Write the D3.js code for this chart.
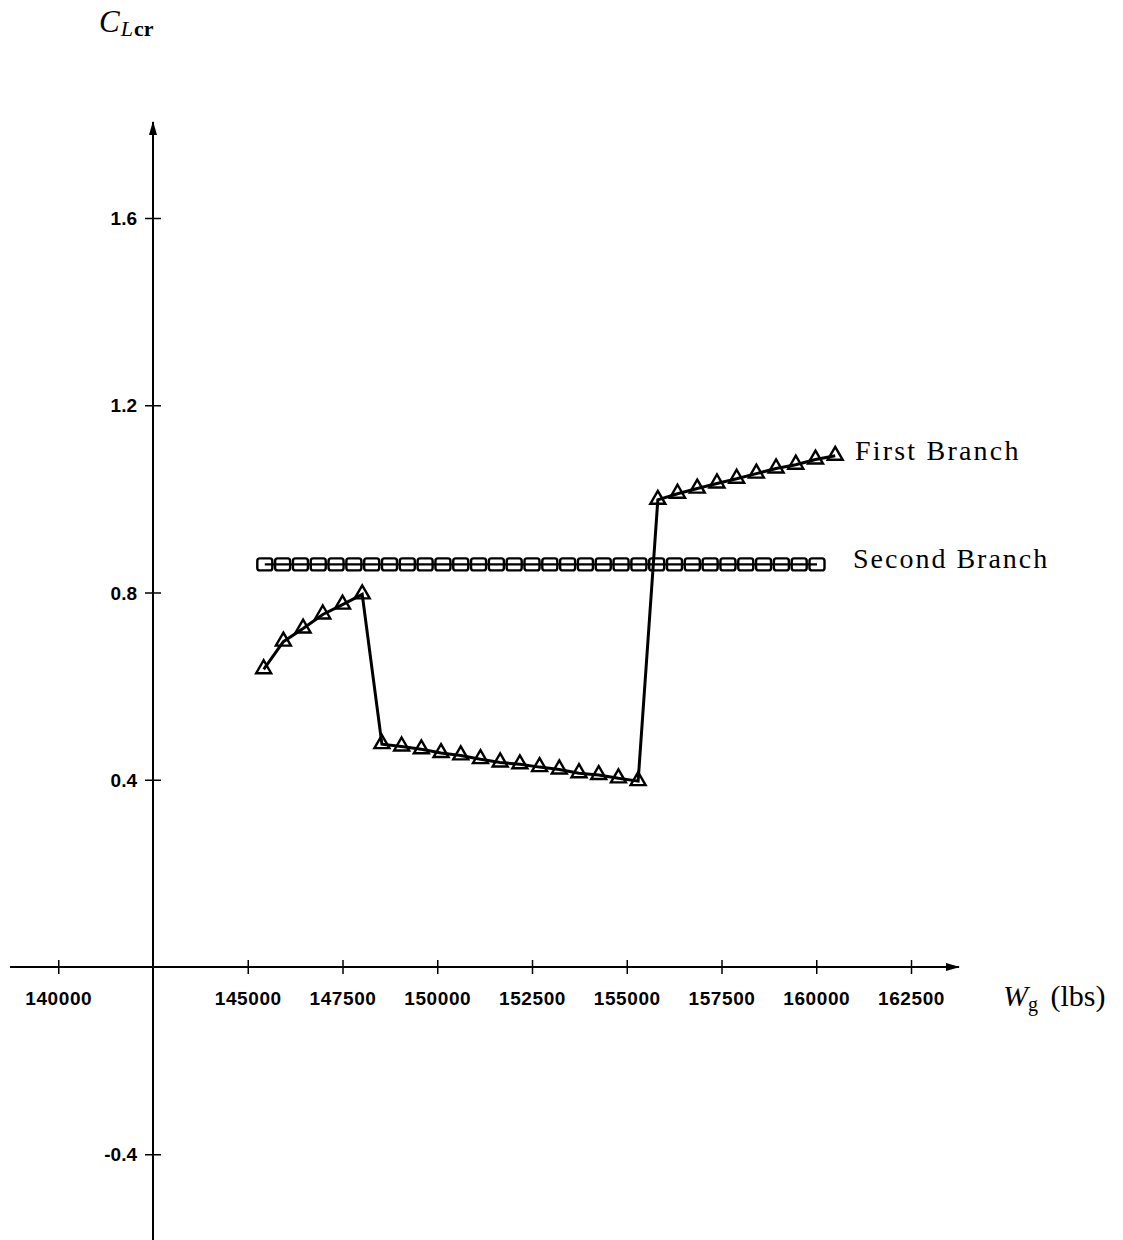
<!DOCTYPE html>
<html>
<head>
<meta charset="utf-8">
<script src="https://cdn.jsdelivr.net/npm/d3@7"></script>
<style>
  body { margin: 0; background: #fff; }
</style>
</head>
<body>
<div class="canvas"></div>
<script>
// DATA ------------------------------------------------------------------------
// First branch (triangles): gross weight (lbs) and CLcr
const firstW = [145420, 145940, 146460, 146980, 147500, 148020,
    148540, 149060, 149580, 150100, 150620, 151140, 151660, 152180, 152700,
    153220, 153740, 154260, 154780, 155300,
    155820, 156340, 156860, 157380, 157900, 158420, 158940, 159460, 159980, 160500];
const firstCL = [0.636, 0.695, 0.723, 0.753, 0.774, 0.796,
    0.476, 0.471, 0.465, 0.457, 0.452, 0.444, 0.437, 0.433, 0.427,
    0.422, 0.414, 0.410, 0.403, 0.397,
    0.998, 1.011, 1.022, 1.033, 1.043, 1.054, 1.065, 1.073, 1.084, 1.092];

// Second branch (squares)
const secondW = [145450, 145920, 146390, 146860, 147330, 147800, 148270, 148740,
    149210, 149680, 150150, 150620, 151090, 151560, 152030, 152500,
    152970, 153440, 153910, 154380, 154850, 155320, 155790, 156260,
    156730, 157200, 157670, 158140, 158610, 159080, 159550, 160020];
const secondCL = [0.86, 0.86, 0.86, 0.86, 0.86, 0.86, 0.86, 0.86,
    0.86, 0.86, 0.86, 0.86, 0.86, 0.86, 0.86, 0.86,
    0.86, 0.86, 0.86, 0.86, 0.86, 0.86, 0.86, 0.86,
    0.86, 0.86, 0.86, 0.86, 0.86, 0.86, 0.86, 0.86];

const xTicks = [140000, 145000, 147500, 150000, 152500, 155000, 157500, 160000, 162500];
const yTicks = [1.6, 1.2, 0.8, 0.4, -0.4];
const seriesNames = ['First Branch', 'Second Branch'];

// SET UP ----------------------------------------------------------------------
const width = 1123, height = 1240;
const svg = d3.select('.canvas')
    .append('svg')
        .attr('width', width)
        .attr('height', height);

// axis crosses at W = 142500, CL = 0
const x = d3.scaleLinear().domain([142500, 162500]).range([153, 911]);
const y = d3.scaleLinear().domain([0, 1.6]).range([967, 218]);

const tickFont = '"Liberation Sans", Arial, sans-serif';
const textFont = '"Liberation Serif", "Times New Roman", serif';

// arrow heads
const defs = svg.append('defs');
defs.append('marker')
    .attr('id', 'arrow')
    .attr('viewBox', '0 0 14 10')
    .attr('refX', 13).attr('refY', 5)
    .attr('markerWidth', 14).attr('markerHeight', 10)
    .attr('markerUnits', 'userSpaceOnUse')
    .attr('orient', 'auto')
  .append('path')
    .attr('d', 'M0,1 L14,5 L0,9 Z')
    .attr('fill', '#000');

// AXES ------------------------------------------------------------------------
const axisY0 = y(0), axisX0 = x(142500);

svg.append('line')
    .attr('x1', 10).attr('y1', axisY0)
    .attr('x2', 959).attr('y2', axisY0)
    .attr('stroke', '#000').attr('stroke-width', 2)
    .attr('marker-end', 'url(#arrow)');

svg.append('line')
    .attr('x1', axisX0).attr('y1', height)
    .attr('x2', axisX0).attr('y2', 122)
    .attr('stroke', '#000').attr('stroke-width', 2)
    .attr('marker-end', 'url(#arrow)');

const xAxisGroup = svg.append('g')
    .attr('transform', `translate(0, ${axisY0})`)
    .call(d3.axisBottom(x).tickValues(xTicks).tickSize(7).tickFormat(d3.format('d')));
xAxisGroup.select('.domain').remove();
xAxisGroup.selectAll('.tick line')
    .attr('y1', -7).attr('stroke', '#000').attr('stroke-width', 1.5);
xAxisGroup.selectAll('.tick text')
    .attr('y', 38).attr('dy', 0)
    .attr('fill', '#000')
    .style('font', `bold 19px ${tickFont}`)
    .style('letter-spacing', '0.6px');

const yAxisGroup = svg.append('g')
    .attr('transform', `translate(${axisX0}, 0)`)
    .call(d3.axisLeft(y).tickValues(yTicks).tickSize(8).tickFormat(d3.format('.1f')));
yAxisGroup.select('.domain').remove();
yAxisGroup.selectAll('.tick line')
    .attr('x2', 8).attr('x1', -8).attr('stroke', '#000').attr('stroke-width', 1.5);
yAxisGroup.selectAll('.tick text')
    .attr('x', -16).attr('dy', '0.35em')
    .attr('fill', '#000')
    .style('font', `bold 19px ${tickFont}`)
    .text(d => d3.format('.1f')(d).replace('−', '-'));

// axis titles
const cTitle = svg.append('text')
    .attr('x', 99).attr('y', 32)
    .style('font-family', textFont)
    .attr('fill', '#000');
cTitle.append('tspan').text('C').style('font-style', 'italic').style('font-size', '31px');
cTitle.append('tspan').text('L').attr('dy', 4).attr('dx', 1).style('font-style', 'italic').style('font-size', '22px');
cTitle.append('tspan').text('cr').attr('dx', 1).style('font-size', '22px').style('font-weight', 'bold');

const wTitle = svg.append('text')
    .attr('x', 1003).attr('y', 1006)
    .style('font-family', textFont)
    .attr('fill', '#000');
wTitle.append('tspan').text('W').style('font-style', 'italic').style('font-size', '30px');
wTitle.append('tspan').text('g').attr('dy', 5).style('font-size', '20px');
wTitle.append('tspan').text(' (lbs)').attr('dy', -5).attr('dx', 5).style('font-size', '30px');

// SERIES ----------------------------------------------------------------------
const first = firstW.map((w, i) => ({ w: w, cl: firstCL[i] }));
const second = secondW.map((w, i) => ({ w: w, cl: secondCL[i] }));

const line = d3.line().x(d => x(d.w)).y(d => y(d.cl));

svg.append('path')
    .datum(second)
    .attr('d', line)
    .attr('fill', 'none')
    .attr('stroke', '#000')
    .attr('stroke-width', 2.2);

svg.selectAll('rect.sq')
    .data(second)
    .enter()
  .append('rect')
    .attr('class', 'sq')
    .attr('x', d => x(d.w) - 7.5)
    .attr('y', d => y(d.cl) - 6)
    .attr('width', 15)
    .attr('height', 12)
    .attr('rx', 2.5)
    .attr('fill', 'none')
    .attr('stroke', '#000')
    .attr('stroke-width', 2.4);

svg.append('path')
    .datum(first)
    .attr('d', line)
    .attr('fill', 'none')
    .attr('stroke', '#000')
    .attr('stroke-width', 3);

svg.selectAll('path.tri')
    .data(first)
    .enter()
  .append('path')
    .attr('class', 'tri')
    .attr('d', d => {
        const cx = x(d.w), cy = y(d.cl);
        return `M${cx},${cy - 9} L${cx + 7.5},${cy + 4} L${cx - 7.5},${cy + 4} Z`;
    })
    .attr('fill', 'none')
    .attr('stroke', '#000')
    .attr('stroke-width', 2.4)
    .attr('stroke-linejoin', 'miter');

// series labels
svg.append('text')
    .attr('x', 855).attr('y', 460)
    .text(seriesNames[0])
    .style('font', `28px ${textFont}`)
    .style('letter-spacing', '2.2px')
    .attr('fill', '#000');

svg.append('text')
    .attr('x', 853).attr('y', 568)
    .text(seriesNames[1])
    .style('font', `28px ${textFont}`)
    .style('letter-spacing', '2px')
    .attr('fill', '#000');
</script>
</body>
</html>
